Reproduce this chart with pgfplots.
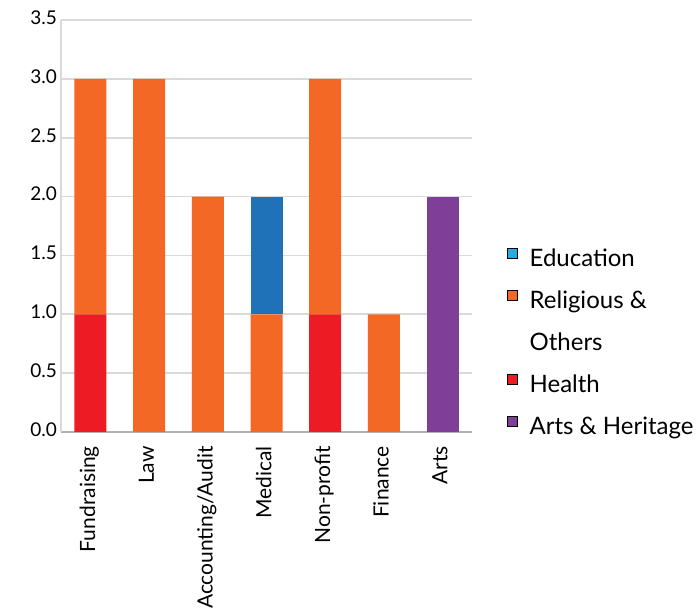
\documentclass[border=0pt]{standalone}
\usepackage{fontspec}
\setmainfont{Lato}
\usepackage{pgfplots}
\pgfplotsset{compat=1.18}
\definecolor{edubar}{HTML}{1F72B8}
\definecolor{edulg}{HTML}{29ABE2}
\definecolor{rel}{HTML}{F26824}
\definecolor{hea}{HTML}{ED1C24}
\definecolor{art}{HTML}{7F3F98}
\definecolor{gridc}{HTML}{D9D9D9}
\definecolor{axc}{HTML}{B0B0B0}
\begin{document}
\begin{tikzpicture}
\path (0,0) rectangle (699bp,616bp);
\begin{axis}[
  at={(61bp,184bp)}, anchor=south west,
  scale only axis, width=411bp, height=412bp,
  ybar stacked, bar width=32bp,
  xmin=-0.5, xmax=6.5, ymin=0, ymax=3.5,
  xtick={0,...,6},
  xticklabels={Fundraising,Law,Accounting/Audit,Medical,Non-profit,Finance,Arts},
  xticklabel style={yshift=-14bp, rotate=90, anchor=east, font=\fontsize{21bp}{24bp}\selectfont, inner sep=0pt},
  ytick={0,0.5,...,3.5},
  yticklabel style={font=\fontsize{19bp}{22bp}\selectfont, inner sep=0pt, xshift=-4bp,
    /pgf/number format/.cd, fixed, fixed zerofill, precision=1, assume math mode=true},
  major tick length=0pt,
  ymajorgrids, major grid style={gridc, line width=1.6bp},
  axis x line*=bottom, axis y line*=left,
  x axis line style={axc, line width=1.6bp, -},
  y axis line style={gridc, line width=1.6bp, -},
  typeset ticklabels with strut,
  legend cell align=left,
  legend style={at={(1.078,0.218)}, anchor=west, draw=none, fill=none,
    font=\fontsize{24bp}{28bp}\selectfont, row sep=19bp,
    /tikz/every odd column/.append style={column sep=10bp}},
  legend image code/.code={\fill[#1] (0bp,0bp) rectangle (10bp,10bp);},
]
\addplot[fill=hea, draw=none, forget plot] coordinates {(0,1) (1,0) (2,0) (3,0) (4,1) (5,0) (6,0)};
\addplot[fill=rel, draw=none, forget plot] coordinates {(0,2) (1,3) (2,2) (3,1) (4,2) (5,1) (6,0)};
\addplot[fill=edubar, draw=none, forget plot] coordinates {(0,0) (1,0) (2,0) (3,1) (4,0) (5,0) (6,0)};
\addplot[fill=art, draw=none, forget plot] coordinates {(0,0) (1,0) (2,0) (3,0) (4,0) (5,0) (6,2)};
\addlegendimage{fill=edulg}\addlegendentry{Education}
\addlegendimage{fill=rel}\addlegendentry{Religious \&}
\addlegendimage{empty legend}\addlegendentry{Others}
\addlegendimage{fill=hea}\addlegendentry{Health}
\addlegendimage{fill=art}\addlegendentry{Arts \& Heritage}
\end{axis}
\end{tikzpicture}
\end{document}
